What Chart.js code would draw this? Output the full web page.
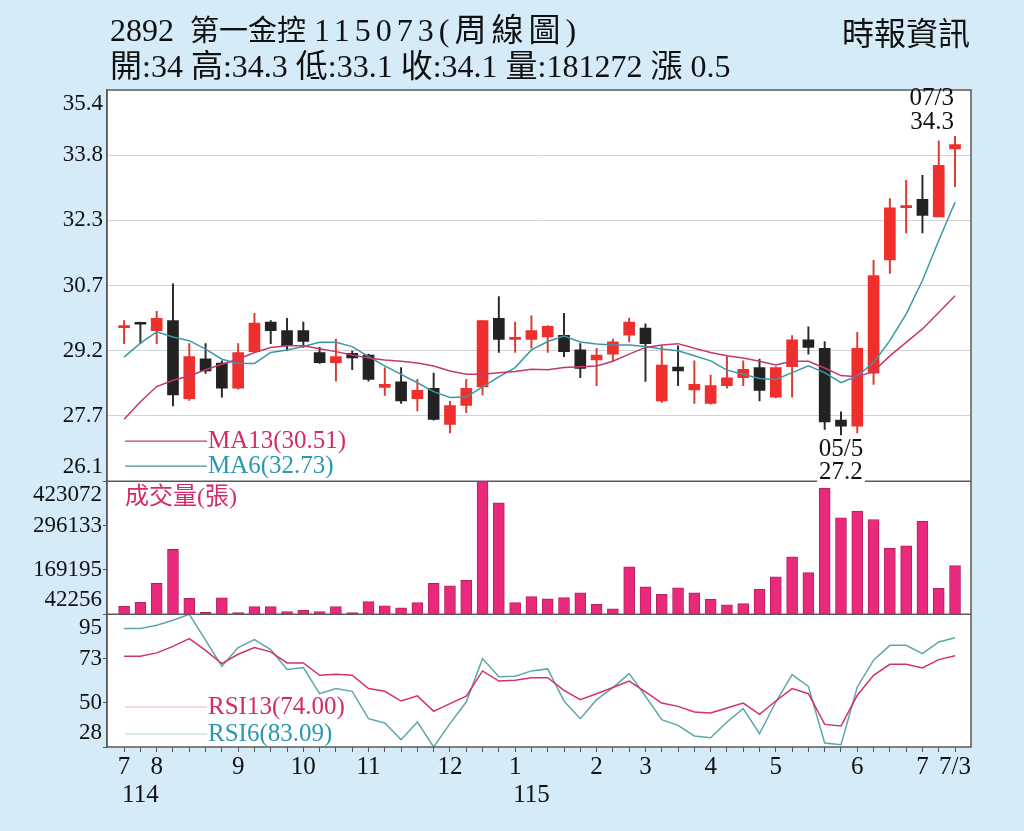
<!DOCTYPE html>
<html>
<head>
<meta charset="utf-8">
<script src="https://cdn.jsdelivr.net/npm/chart.js@4.4.1/dist/chart.umd.min.js"></script>
<style>
  html, body { margin: 0; padding: 0; background: #d5ebf8; }
  #wrap { position: relative; width: 1024px; height: 831px; overflow: hidden; }
  canvas { position: absolute; left: 0; top: 0; }
  .hd { position: absolute; font-family: "Liberation Serif", "Noto Sans CJK TC", serif; color: #111; white-space: pre; line-height: 1; }
  .wide { letter-spacing: 5px; }
</style>
</head>
<body>
<div id="wrap">
  <canvas id="kline" width="1024" height="831"></canvas>
  <div class="hd" style="left:110px; top:14px; font-size:32px;">2892  <span style="font-size:29px;">第一金控</span> <span class="wide">115073(周線圖)</span></div>
  <div class="hd" style="left:110px; top:50px; font-size:32px;">開:34 高:34.3 低:33.1 收:34.1 量:181272 漲 0.5</div>
  <div class="hd" style="left:842px; top:18px; font-size:32px;">時報資訊</div>
</div>
<script>
// x axis: one entry per week, month number where a month starts
const monthTicks = [
  '7', '', '8', '', '', '', '', '9', '', '', '', '10', '', '',
  '', '11', '', '', '', '', '12', '', '', '', '1', '', '',
  '', '', '2', '', '', '3', '', '', '', '4', '', '', '',
  '5', '', '', '', '', '6', '', '', '', '7', '', '7/3'
];
const yearTickAt = [1, 25];
const yearTickText = ['114', '115'];

// weekly candles
const openP = [
  29.75, 29.85, 29.68, 29.92, 28.06, 29.01, 28.91, 28.31, 29.18, 29.88,
  29.68, 29.68, 29.16, 28.92, 29.14, 29.10, 28.33, 28.46, 28.06, 28.31,
  27.45, 27.90, 28.34, 29.97, 29.47, 29.47, 29.53, 29.57, 29.22, 28.98,
  29.12, 29.57, 29.74, 28.01, 28.81, 28.27, 27.95, 28.37, 28.56, 28.80,
  28.10, 28.82, 29.46, 29.26, 27.55, 27.41, 28.67, 31.36, 32.60, 32.80,
  32.38, 34.0
];
const highP = [
  29.92, 29.88, 30.14, 30.79, 29.37, 29.37, 28.96, 29.37, 30.09, 29.92,
  29.97, 29.88, 29.28, 29.48, 29.20, 29.12, 28.80, 28.80, 28.52, 28.67,
  28.00, 28.52, 29.92, 30.49, 29.88, 30.03, 29.80, 30.09, 29.37, 29.26,
  29.48, 29.98, 29.84, 29.32, 29.32, 28.96, 28.62, 29.06, 28.96, 29.00,
  28.82, 29.56, 29.77, 29.42, 27.75, 29.64, 31.35, 32.82, 33.25, 33.37,
  34.19, 34.3
];
const lowP = [
  29.37, 29.37, 29.37, 27.89, 28.02, 28.66, 28.10, 28.29, 29.16, 29.37,
  29.20, 29.28, 28.90, 28.48, 28.75, 28.48, 28.14, 27.95, 27.77, 27.55,
  27.25, 27.73, 28.15, 29.16, 29.16, 29.26, 29.16, 29.06, 28.56, 28.37,
  28.95, 29.41, 28.47, 27.97, 28.37, 27.95, 27.93, 28.31, 28.37, 28.01,
  28.08, 28.10, 29.12, 27.33, 27.2, 27.25, 28.40, 31.04, 32.00, 32.00,
  32.38, 33.1
];
const closeP = [
  29.80, 29.83, 29.97, 28.15, 29.06, 28.72, 28.31, 29.16, 29.86, 29.68,
  29.32, 29.42, 28.92, 29.06, 29.03, 28.52, 28.40, 28.01, 28.26, 27.57,
  27.90, 28.31, 29.92, 29.47, 29.52, 29.68, 29.78, 29.18, 28.78, 29.10,
  29.41, 29.88, 29.37, 28.86, 28.72, 28.40, 28.37, 28.56, 28.76, 28.26,
  28.80, 29.46, 29.28, 27.51, 27.41, 29.26, 30.99, 32.60, 32.65, 32.42,
  33.61, 34.1
];
const ma13 = [
  27.57, 27.99, 28.35, 28.50, 28.60, 28.75, 28.88, 29.00, 29.16, 29.28,
  29.32, 29.32, 29.25, 29.18, 29.10, 29.03, 28.98, 28.95, 28.91, 28.84,
  28.72, 28.64, 28.64, 28.68, 28.71, 28.76, 28.75, 28.80, 28.82, 28.84,
  28.95, 29.12, 29.28, 29.34, 29.37, 29.26, 29.16, 29.08, 29.03, 28.95,
  28.86, 28.95, 28.95, 28.79, 28.61, 28.58, 28.71, 29.08, 29.40, 29.72,
  30.11, 30.51
];
const ma6 = [
  29.05, 29.38, 29.65, 29.53, 29.44, 29.24, 29.00, 28.90, 28.90, 29.16,
  29.22, 29.30, 29.40, 29.40, 29.30, 29.06, 28.84, 28.64, 28.44, 28.23,
  28.09, 28.10, 28.34, 28.58, 28.80, 29.22, 29.42, 29.55, 29.41, 29.36,
  29.34, 29.34, 29.30, 29.24, 29.20, 29.08, 28.96, 28.74, 28.64, 28.54,
  28.52, 28.68, 28.84, 28.68, 28.44, 28.60, 28.92, 29.44, 30.07, 30.87,
  31.82, 32.73
];
const volume = [
  65160, 76620, 131020, 228360, 88070, 47980, 89020, 47030, 64210, 64210,
  49890, 53710, 49890, 64210, 47030, 78520, 66120, 60390, 75660, 131020,
  123380, 139610, 423000, 361030, 75660, 92840, 86160, 89980, 103340, 70890,
  57530, 177780, 120520, 99520, 117650, 103340, 85200, 68980, 72800, 113840,
  149150, 206410, 161560, 403020, 318080, 337170, 313310, 231230, 237910, 308540,
  116700, 181272
];
const rsi6 = [
  87.8, 87.8, 89.4, 92.0, 95.0, 81.9, 68.7, 78.2, 82.2, 77.2,
  67.1, 68.1, 54.9, 57.5, 56.1, 42.3, 40.1, 31.7, 40.6, 28.0,
  39.8, 50.7, 72.6, 63.4, 63.7, 66.4, 67.4, 51.2, 42.3, 51.9,
  58.0, 65.0, 53.6, 41.8, 38.9, 33.6, 32.7, 40.6, 47.4, 34.7,
  50.7, 64.5, 58.6, 30.0, 29.2, 58.3, 71.8, 79.3, 79.3, 75.1,
  81.0, 83.09
];
const rsi13 = [
  73.8, 73.8, 75.5, 78.8, 82.7, 76.8, 70.1, 74.8, 78.2, 76.0,
  70.4, 70.4, 64.2, 64.7, 64.2, 57.5, 56.1, 51.2, 53.8, 46.0,
  49.9, 53.6, 66.4, 61.3, 61.7, 63.0, 63.0, 56.6, 51.9, 54.9,
  58.0, 61.3, 55.8, 50.2, 48.5, 45.7, 45.2, 47.7, 50.2, 44.5,
  51.2, 57.5, 54.9, 39.4, 38.6, 54.1, 64.2, 69.7, 69.7, 67.9,
  72.1, 74.00
];

// axis ticks
const priceTicks = [26.1, 27.65, 29.2, 30.75, 32.3, 33.85, 35.4];
const priceTickText = ['26.1', '27.7', '29.2', '30.7', '32.3', '33.8', '35.4'];
const volTicks = [42256, 169195, 296133, 423072];
const rsiTicks = [28, 50.33, 72.67, 95];
const rsiTickText = ['28', '50', '73', '95'];

const hiNote = '07/3';
const loNote = '05/5';

const SERIF = '"Liberation Serif", "Noto Sans CJK TC", serif';
const RED = '#ef2e2e';
const BLACK = '#222222';
const MA13_C = '#c23a6c';
const MA6_C = '#3a98a8';
const RSI13_C = '#d2326c';
const RSI6_C = '#5ea6ae';

const xy = arr => arr.map((v, i) => ({ x: i, y: v }));
const isUp = openP.map((o, i) => closeP[i] >= o);

// first and last tick labels are nudged inward with an empty line
function edgeLabel(text, i, n) {
  if (i === n - 1) return ['', text];
  if (i === 0) return [text, ''];
  return text;
}

const panelDecor = {
  id: 'panelDecor',
  beforeDraw(chart) {
    const { ctx, chartArea: a } = chart;
    ctx.save();
    ctx.fillStyle = '#ffffff';
    ctx.fillRect(a.left, a.top, a.right - a.left, a.bottom - a.top);
    ctx.restore();
  },
  afterDraw(chart) {
    const { ctx, chartArea: a, scales } = chart;
    const { x, yP, yV, yR } = scales;
    ctx.save();
    // panel frame and separators
    ctx.strokeStyle = '#5a5a5a';
    ctx.lineWidth = 1.5;
    ctx.strokeRect(a.left, a.top, a.right - a.left, a.bottom - a.top);
    [yV.top, yV.bottom].forEach(y => {
      ctx.beginPath();
      ctx.moveTo(a.left, y);
      ctx.lineTo(a.right, y);
      ctx.stroke();
    });

    // legends
    ctx.font = '25px ' + SERIF;
    ctx.textBaseline = 'middle';
    ctx.textAlign = 'left';
    const lx = a.left + 18;
    const item = (y, lineColor, text, textColor) => {
      ctx.strokeStyle = lineColor;
      ctx.lineWidth = 1.2;
      ctx.beginPath();
      ctx.moveTo(lx, y);
      ctx.lineTo(lx + 82, y);
      ctx.stroke();
      ctx.fillStyle = textColor;
      ctx.fillText(text, lx + 83, y);
    };
    item(yP.bottom - 40, MA13_C, 'MA13(' + ma13[ma13.length - 1].toFixed(2) + ')', '#d42a6a');
    item(yP.bottom - 15, MA6_C, 'MA6(' + ma6[ma6.length - 1].toFixed(2) + ')', '#2a98b0');
    item(yR.bottom - 40, '#e6b4c6', 'RSI13(' + rsi13[rsi13.length - 1].toFixed(2) + ')', '#d42a6a');
    item(yR.bottom - 13, '#b4d2d6', 'RSI6(' + rsi6[rsi6.length - 1].toFixed(2) + ')', '#2a98b0');
    ctx.fillStyle = '#d42a6a';
    ctx.font = '24px ' + SERIF;
    ctx.fillText('成交量(張)', lx, yV.top + 17);

    // highest high / lowest low notes
    ctx.font = '25px ' + SERIF;
    ctx.fillStyle = '#111';
    const hi = highP.indexOf(Math.max(...highP));
    const hx = x.getPixelForValue(hi);
    const hy = yP.getPixelForValue(highP[hi]);
    ctx.textAlign = 'right';
    ctx.fillText(hiNote, hx - 1, hy - 38);
    ctx.fillText(highP[hi].toFixed(1), hx - 1, hy - 14);

    const lo = lowP.indexOf(Math.min(...lowP));
    const lox = x.getPixelForValue(lo);
    const loy = yP.getPixelForValue(lowP[lo]);
    ctx.textAlign = 'center';
    ctx.fillText(loNote, lox, loy + 15);
    const t = lowP[lo].toFixed(1);
    const w = ctx.measureText(t).width;
    ctx.fillStyle = '#ffffff';
    ctx.fillRect(lox - w / 2 - 2, loy + 27, w + 4, 22);
    ctx.fillStyle = '#111';
    ctx.fillText(t, lox, loy + 38);
    ctx.restore();
  }
};

const tickFont = { family: SERIF, size: 23, lineHeight: 1.2 };

new Chart(document.getElementById('kline'), {
  data: {
    datasets: [
      { type: 'line', label: 'MA13', data: xy(ma13), yAxisID: 'yP', borderColor: MA13_C, borderWidth: 1.5, pointRadius: 0, order: 0 },
      { type: 'line', label: 'MA6', data: xy(ma6), yAxisID: 'yP', borderColor: MA6_C, borderWidth: 1.5, pointRadius: 0, order: 0 },
      {
        type: 'bar', label: 'body', yAxisID: 'yP', order: 1,
        data: openP.map((o, i) => ({ x: i, y: [o, closeP[i]] })),
        backgroundColor: isUp.map(u => u ? RED : BLACK),
        grouped: false, categoryPercentage: 1, barPercentage: 1, maxBarThickness: 11, minBarLength: 2
      },
      {
        type: 'bar', label: 'wick', yAxisID: 'yP', order: 2,
        data: lowP.map((l, i) => ({ x: i, y: [l, highP[i]] })),
        backgroundColor: isUp.map(u => u ? '#dc3a2e' : '#2a2a2a'),
        grouped: false, categoryPercentage: 1, barPercentage: 1, maxBarThickness: 1.3
      },
      {
        type: 'bar', label: '成交量', yAxisID: 'yV', order: 1,
        data: xy(volume),
        backgroundColor: '#e92a7c', borderColor: '#b3205e', borderWidth: 1,
        grouped: false, categoryPercentage: 1, barPercentage: 1, maxBarThickness: 11
      },
      { type: 'line', label: 'RSI13', data: xy(rsi13), yAxisID: 'yR', borderColor: RSI13_C, borderWidth: 1.5, pointRadius: 0, order: 0 },
      { type: 'line', label: 'RSI6', data: xy(rsi6), yAxisID: 'yR', borderColor: RSI6_C, borderWidth: 1.5, pointRadius: 0, order: 0 }
    ]
  },
  options: {
    responsive: false,
    animation: false,
    devicePixelRatio: 1,
    layout: { padding: { top: 90, left: 7, right: 53, bottom: 0 } },
    plugins: { legend: { display: false }, tooltip: { enabled: false } },
    scales: {
      x: {
        type: 'linear',
        offset: false,
        min: -1.05,
        max: 51.98,
        afterBuildTicks: s => { s.ticks = monthTicks.map((_, i) => ({ value: i })); },
        afterFit: s => { s.height = 84; },
        ticks: {
          autoSkip: false,
          maxRotation: 0,
          padding: 2,
          color: '#111',
          font: { family: SERIF, size: 25, lineHeight: 1.1 },
          callback: (v, i) => {
            const y = yearTickAt.indexOf(i);
            return y >= 0 ? [monthTicks[i], yearTickText[y]] : monthTicks[i];
          }
        },
        grid: { offset: false, drawOnChartArea: false, tickLength: 5, color: '#555' },
        border: { display: false }
      },
      yR: {
        type: 'linear', position: 'left', stack: 'panels', stackWeight: 132.7,
        min: 28, max: 95,
        afterBuildTicks: s => { s.ticks = rsiTicks.map(v => ({ value: v })); },
        afterFit: s => { s.width = 100; },
        ticks: { autoSkip: false, padding: 1, color: '#111', font: tickFont,
          callback: (v, i) => edgeLabel(rsiTickText[i], i, rsiTicks.length) },
        grid: { drawOnChartArea: false, tickLength: 4, color: '#555' },
        border: { color: '#5a5a5a', width: 1.5 }
      },
      yV: {
        type: 'linear', position: 'left', stack: 'panels', stackWeight: 133,
        min: 42256, max: 423072,
        afterBuildTicks: s => { s.ticks = volTicks.map(v => ({ value: v })); },
        afterFit: s => { s.width = 100; },
        ticks: { autoSkip: false, padding: 1, color: '#111', font: tickFont,
          callback: (v, i) => edgeLabel(String(volTicks[i]), i, volTicks.length) },
        grid: { drawOnChartArea: false, tickLength: 4, color: '#555' },
        border: { color: '#5a5a5a', width: 1.5 }
      },
      yP: {
        type: 'linear', position: 'left', stack: 'panels', stackWeight: 391,
        min: 26.1, max: 35.4,
        afterBuildTicks: s => { s.ticks = priceTicks.map(v => ({ value: v })); },
        afterFit: s => { s.width = 100; },
        ticks: { autoSkip: false, padding: 4, color: '#111', font: tickFont,
          callback: (v, i) => edgeLabel(priceTickText[i], i, priceTicks.length) },
        grid: {
          drawTicks: false,
          color: c => (c.index === 0 || c.index === priceTicks.length - 1) ? 'rgba(0,0,0,0)' : '#d2d2d2'
        },
        border: { color: '#5a5a5a', width: 1.5 }
      }
    }
  },
  plugins: [panelDecor]
});
</script>
</body>
</html>
